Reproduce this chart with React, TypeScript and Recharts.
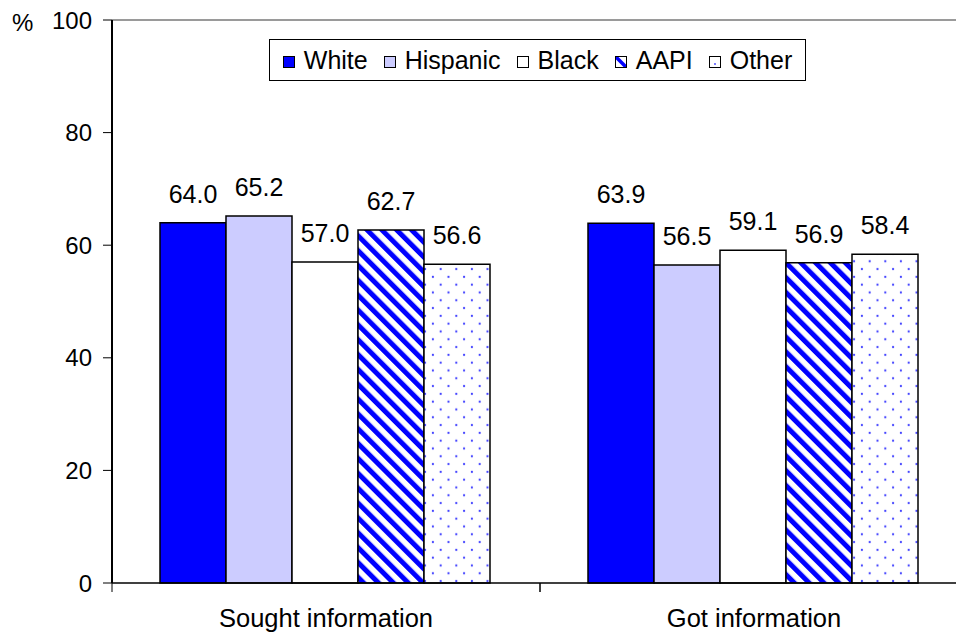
import React from "react";
import {
  BarChart,
  Bar,
  XAxis,
  YAxis,
  LabelList,
  ReferenceLine,
  Legend,
} from "recharts";

const categories = ["Sought information", "Got information"];
const whiteVals = [64.0, 63.9];
const hispanicVals = [65.2, 56.5];
const blackVals = [57.0, 59.1];
const aapiVals = [62.7, 56.9];
const otherVals = [56.6, 58.4];
const seriesNames = ["White", "Hispanic", "Black", "AAPI", "Other"];
const yTicks = [0, 20, 40, 60, 80, 100];

const FONT = "'Liberation Sans', Arial, sans-serif";
const FS = 24;

const seriesKeys = ["white", "hispanic", "black", "aapi", "other"];
const seriesFills = ["#0000FF", "#CCCCFF", "#FFFFFF", "url(#stripes)", "url(#dots)"];

const data = categories.map((c, i) => ({
  name: c,
  white: whiteVals[i],
  hispanic: hispanicVals[i],
  black: blackVals[i],
  aapi: aapiVals[i],
  other: otherVals[i],
}));

const Patterns = () => (
  <svg width={0} height={0} style={{ position: "absolute" }}>
    <defs>
      <pattern
        id="stripes"
        patternUnits="userSpaceOnUse"
        width={10.5}
        height={10.5}
        patternTransform="rotate(-45)"
      >
        <rect x={0} y={0} width={10.5} height={10.5} fill="#FFFFFF" />
        <rect x={0} y={0} width={5} height={10.5} fill="#0000FF" />
      </pattern>
      <pattern id="dots" patternUnits="userSpaceOnUse" width={15.6} height={15.6}>
        <rect x={0} y={0} width={15.6} height={15.6} fill="#FFFFFF" />
        <circle cx={3.9} cy={3.9} r={1.1} fill="#3B3BFF" />
        <circle cx={11.7} cy={11.7} r={1.1} fill="#3B3BFF" />
      </pattern>
      <pattern id="stripesIcon" patternUnits="userSpaceOnUse" width={12} height={12}>
        <rect x={0} y={0} width={12} height={12} fill="#FFFFFF" />
        <line x1={0} y1={0} x2={12} y2={12} stroke="#0000FF" strokeWidth={3.5} />
      </pattern>
    </defs>
  </svg>
);

const LegendContent = () => (
  <div
    style={{
      boxSizing: "border-box",
      width: 537,
      height: 42,
      border: "1px solid #000",
      background: "#fff",
      display: "flex",
      alignItems: "center",
      justifyContent: "center",
      fontFamily: FONT,
      fontSize: 25,
      color: "#000",
    }}
  >
    {seriesNames.map((n, i) => (
      <span
        key={n}
        style={{ display: "flex", alignItems: "center", marginRight: i < 4 ? 16 : 0 }}
      >
        <svg width={12} height={12} style={{ marginRight: 9, marginTop: 3 }}>
          <rect
            x={0.5}
            y={0.5}
            width={11}
            height={11}
            fill={i === 3 ? "url(#stripesIcon)" : i === 4 ? "#fff" : seriesFills[i]}
            stroke="#000"
            strokeWidth={1}
          />
          {i === 4 && <circle cx={6} cy={8} r={0.9} fill="#3B3BFF" />}
        </svg>
        <span>{n}</span>
      </span>
    ))}
  </div>
);

const CategoryTick = (props: any) => {
  const { x, y, payload, width, visibleTicksCount } = props;
  const half =
    typeof payload.offset === "number" && payload.offset > 0
      ? payload.offset
      : width / (visibleTicksCount || categories.length) / 2;
  return (
    <g>
      <line x1={x - half} x2={x - half} y1={y} y2={y + 9} stroke="#000" strokeWidth={1} />
      <line x1={x + half} x2={x + half} y1={y} y2={y + 9} stroke="#000" strokeWidth={1} />
      <text
        x={x}
        y={y + 44}
        textAnchor="middle"
        fontFamily={FONT}
        fontSize={25.5}
        fill="#000"
      >
        {payload.value}
      </text>
    </g>
  );
};

const tickStyle = { fontFamily: FONT, fontSize: FS, fill: "#000" };

export default function App() {
  return (
    <div
      style={{
        position: "fixed",
        left: 0,
        top: 0,
        width: 956,
        height: 634,
        overflow: "hidden",
        background: "#fff",
      }}
    >
      <Patterns />
      <span
        style={{
          position: "absolute",
          left: 12,
          top: 11,
          fontFamily: FONT,
          fontSize: FS,
          lineHeight: "24px",
          color: "#000",
        }}
      >
        %
      </span>
      <BarChart
        width={1000}
        height={634}
        data={data}
        margin={{ top: 20, right: 32, left: 0, bottom: 0 }}
        barGap={0}
        barCategoryGap={48}
      >
        <XAxis
          dataKey="name"
          tick={<CategoryTick />}
          tickSize={0}
          tickMargin={0}
          tickLine={false}
          axisLine={{ stroke: "#000", strokeWidth: 1.5 }}
          height={51}
          interval={0}
        />
        <YAxis
          domain={[0, 100]}
          ticks={yTicks}
          width={112}
          tick={tickStyle}
          tickSize={9}
          tickMargin={11}
          tickLine={{ stroke: "#000", strokeWidth: 1 }}
          axisLine={{ stroke: "#000", strokeWidth: 2 }}
          interval={0}
        />
        <ReferenceLine y={100} stroke="#9A9A9A" strokeWidth={2} ifOverflow="visible" />
        <Legend
          layout="vertical"
          align="center"
          verticalAlign="middle"
          content={<LegendContent />}
          wrapperStyle={{ left: 269, top: 39, width: 537, height: 42 }}
        />
        {seriesKeys.map((k, i) => (
          <Bar
            key={k}
            dataKey={k}
            name={seriesNames[i]}
            fill={seriesFills[i]}
            stroke="#000"
            strokeWidth={1.5}
            isAnimationActive={false}
          >
            <LabelList
              dataKey={k}
              position="top"
              offset={20}
              formatter={(v: number) => v.toFixed(1)}
              style={{ fontFamily: FONT, fontSize: 25, fill: "#000" }}
            />
          </Bar>
        ))}
      </BarChart>
    </div>
  );
}
